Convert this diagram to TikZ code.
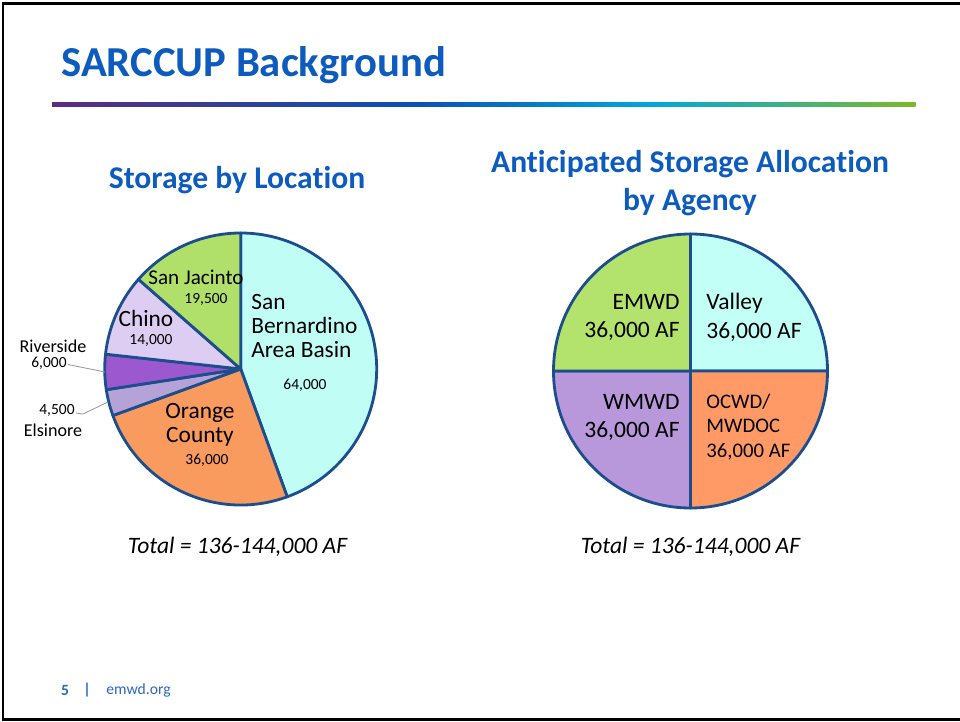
\documentclass[tikz,border=0pt]{standalone}
\usepackage{fontspec}
\setmainfont{Carlito}[Ligatures={NoCommon}]
\usepackage{tikz}
\usetikzlibrary{positioning}

\definecolor{titleblue}{HTML}{0D5BBF}
\definecolor{footblue}{HTML}{2A68BE}
\definecolor{pieline}{HTML}{1C4E8E}
\definecolor{leadgray}{HTML}{9A9A9A}
\definecolor{rulepurple}{HTML}{5A2D82}
\definecolor{ruleblue}{HTML}{0A52B4}
\definecolor{rulecyan}{HTML}{00A7DD}
\definecolor{rulegreen}{HTML}{7CBA28}
\definecolor{sbacyan}{HTML}{BFFDF5}
\definecolor{ocorange}{HTML}{F99A5E}
\definecolor{elslilac}{HTML}{B5A3D8}
\definecolor{rivpurple}{HTML}{9B58CF}
\definecolor{chinolilac}{HTML}{DDCDF2}
\definecolor{sjgreen}{HTML}{B1E06A}
\definecolor{emwdgreen}{HTML}{B3E36D}
\definecolor{valleycyan}{HTML}{C2FFF6}
\definecolor{wmwdlilac}{HTML}{B898DA}
\definecolor{ocwdorange}{HTML}{FF9966}

\begin{document}
\begin{tikzpicture}[x=0.02cm, y=0.02cm,
    slice/.style={draw=pieline, line width=1.6pt, line join=round},
    head/.style={font=\bfseries\fontsize{18}{21.6}\selectfont, text=titleblue, inner sep=0pt},
    bigtext/.style={font=\fontsize{13.3}{13.6}\selectfont, inner sep=0pt},
    midtext/.style={font=\fontsize{10.3}{12}\selectfont, inner sep=0pt},
    smalltext/.style={font=\fontsize{8.8}{10}\selectfont, inner sep=0pt},
    agency/.style={font=\fontsize{13.4}{16.3}\selectfont, inner sep=0pt},
    total/.style={font=\itshape\fontsize{13.4}{15}\selectfont, inner sep=0pt},
    foot/.style={font=\fontsize{8.9}{10}\selectfont, text=footblue, inner sep=0pt},
    leader/.style={draw=leadgray, line width=0.5pt}]
  \useasboundingbox (0,0) rectangle (960,721);

  % Frame and title
  \draw[line width=1.5pt] (965,717.5) -- (3,717.5) -- (3,1.5) -- (965,1.5);
  \node[anchor=base west, font=\bfseries\fontsize{24.3}{28}\selectfont, text=titleblue, inner sep=0pt]
    (title) at (61,644) {SARCCUP Background};
  \foreach \xa/\xb/\ca/\cb in {52/420/rulepurple/ruleblue, 420/650/ruleblue/rulecyan, 650/915/rulecyan/rulegreen} {
    \shade[left color=\ca, right color=\cb] (\xa,614) rectangle (\xb+0.5,618);
  }

  % Headings
  \node[head, anchor=base] (lefthead) at (237,532) {Storage by Location};
  \node[head, align=center] (righthead) at (690,538) {Anticipated Storage Allocation\\by Agency};

  % Storage by location
  \coordinate (lpie) at (240.7,352);
  \foreach \a/\b/\c in {90/-70/sbacyan, -70/-160/ocorange, -160/-171.25/elslilac,
                        -171.25/-186.25/rivpurple, -186.25/-221.25/chinolilac, -221.25/-270/sjgreen} {
    \filldraw[slice, fill=\c] (lpie) -- ++(\a:136) arc[start angle=\a, end angle=\b, radius=136] -- cycle;
  }
  \node[bigtext, anchor=west, align=left] (sbaname) at (251,395) {San\\Bernardino\\Area Basin};
  \node[smalltext] (sbaval) at (305,336) {64,000};
  \node[font=\fontsize{12}{14}\selectfont, inner sep=0pt] (sjname) at (196,444) {San Jacinto};
  \node[smalltext] (sjval) at (206,422) {19,500};
  \node[bigtext] (chname) at (146,403) {Chino};
  \node[smalltext] (chval) at (151,381) {14,000};
  \node[bigtext, align=center] (ocname) at (200,296) {Orange\\County};
  \node[smalltext] (ocval) at (207,261) {36,000};
  \node[midtext] (rivname) at (53,374.5) {Riverside};
  \node[smalltext] (rivval) at (49,357.5) {6,000};
  \node[smalltext] (elsval) at (57,311) {4,500};
  \node[midtext] (elsname) at (53,291) {Elsinore};
  \coordinate (rivtip) at (105,349);
  \coordinate (elsbend) at (83,307);
  \coordinate (elstip) at (108,319);
  \draw[leader] (rivval.east) ++(1,-1) -- (rivtip);
  \draw[leader] (elsval.east) ++(1,-3) -- (elsbend) -- (elstip);

  % Allocation by agency
  \coordinate (rpie) at (690.5,350);
  \foreach \a/\b/\c in {90/0/valleycyan, 0/-90/ocwdorange, -90/-180/wmwdlilac, -180/-270/emwdgreen} {
    \filldraw[slice, fill=\c] (rpie) -- ++(\a:137) arc[start angle=\a, end angle=\b, radius=137] -- cycle;
  }
  \node[agency, anchor=east, align=right] (emwd) at (680,403.5) {EMWD\\36,000 AF};
  \node[agency, anchor=west, align=left] (valley) at (706,403.5) {Valley\\36,000 AF};
  \node[agency, anchor=east, align=right] (wmwd) at (680,303.5) {WMWD\\36,000 AF};
  \node[font=\fontsize{11.8}{13.9}\selectfont, inner sep=0pt, anchor=west, align=left]
    (ocwd) at (706,294) {OCWD/\\MWDOC\\36,000 AF};

  % Totals
  \node[total] (ltotal) at (237.5,174) {Total = 136-144,000 AF};
  \node[total] (rtotal) at (690.5,174) {Total = 136-144,000 AF};

  % Footer
  \node[foot, font=\bfseries\fontsize{8.9}{10}\selectfont] (pagenum) at (65,31) {5};
  \node[foot, font=\bfseries\fontsize{8.9}{10}\selectfont] (bar) at (87,31) {|};
  \node[foot] (site) at (138.5,31) {emwd.org};
\end{tikzpicture}
\end{document}
